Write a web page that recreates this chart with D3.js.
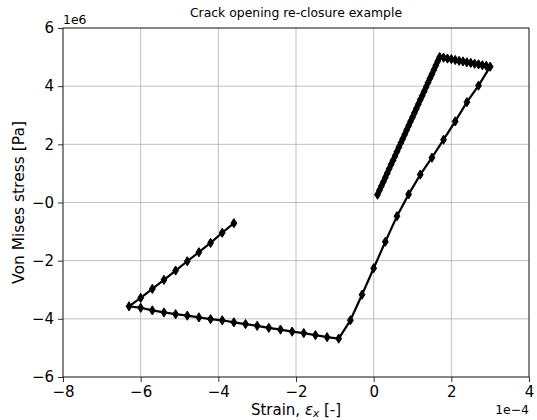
<!DOCTYPE html>
<html>
<head>
<meta charset="utf-8">
<script src="https://cdn.jsdelivr.net/npm/d3@7"></script>
<style>
	body { margin: 0; background: #fff; }
	svg { display: block; font-family: "DejaVu Sans", sans-serif; }
</style>
</head>
<body>
<figure id="crack" style="margin:0"></figure>
<script>
// strain in units of 1e-4, stress in units of 1e6 Pa (axis offsets shown as text)
// loading, first elastic part
var strainLoad = [ 0.10, 0.15, 0.20, 0.25, 0.30, 0.35, 0.40, 0.45, 0.50, 0.55, 0.60, 0.65, 0.70, 0.75, 0.80, 0.85, 0.90,
	0.95, 1.00, 1.05, 1.10, 1.15, 1.20, 1.25, 1.30, 1.35, 1.40, 1.45, 1.50, 1.55, 1.60, 1.65, 1.70 ];
var stressLoad = [ 0.27, 0.42, 0.57, 0.71, 0.86, 1.01, 1.16, 1.31, 1.45, 1.60, 1.75, 1.90, 2.05, 2.19, 2.34, 2.49, 2.64,
	2.79, 2.93, 3.08, 3.23, 3.38, 3.53, 3.67, 3.82, 3.97, 4.12, 4.27, 4.41, 4.56, 4.71, 4.86, 5.00 ];
// crack opening (softening along the top)
var strainOpen = [ 1.80, 1.90, 2.00, 2.10, 2.20, 2.30, 2.40, 2.50, 2.60, 2.70, 2.80, 2.90, 3.00 ];
var stressOpen = [ 4.98, 4.95, 4.93, 4.90, 4.87, 4.85, 4.82, 4.80, 4.77, 4.75, 4.72, 4.70, 4.67 ];
// unloading + re-closure
var strainUnload = [ 2.70, 2.40, 2.10, 1.80, 1.50, 1.20, 0.90, 0.60, 0.30, 0.00, -0.30, -0.60, -0.90 ];
var stressUnload = [ 4.02, 3.45, 2.79, 2.16, 1.54, 0.96, 0.28, -0.47, -1.35, -2.26, -3.17, -4.05, -4.68 ];
// compression
var strainComp = [ -1.20, -1.50, -1.80, -2.10, -2.40, -2.70, -3.00, -3.30, -3.60, -3.90, -4.20, -4.50, -4.80, -5.10,
	-5.40, -5.70, -6.00, -6.30 ];
var stressComp = [ -4.63, -4.56, -4.49, -4.44, -4.37, -4.31, -4.24, -4.18, -4.12, -4.05, -4.01, -3.95, -3.89, -3.84,
	-3.78, -3.71, -3.62, -3.57 ];
// final unloading
var strainBack = [ -6.00, -5.70, -5.40, -5.10, -4.80, -4.50, -4.20, -3.90, -3.60 ];
var stressBack = [ -3.28, -2.97, -2.66, -2.34, -2.02, -1.71, -1.39, -1.04, -0.71 ];

var xTicks = [ -8, -6, -4, -2, 0, 2, 4 ];
var yTicks = [ -6, -4, -2, 0, 2, 4, 6 ];
var yTickLabels = [ "\u22126", "\u22124", "\u22122", "\u22120", "2", "4", "6" ];

var strain = strainLoad.concat( strainOpen, strainUnload, strainComp, strainBack );
var stress = stressLoad.concat( stressOpen, stressUnload, stressComp, stressBack );
var data = strain.map( ( s, i ) => ( { x: s, y: stress[ i ] } ) );

var dimensions = {
	width: 537,
	height: 420,
	margin: { top: 28, right: 8, bottom: 43, left: 63 }
};
dimensions.boundedWidth = dimensions.width - dimensions.margin.left - dimensions.margin.right;
dimensions.boundedHeight = dimensions.height - dimensions.margin.top - dimensions.margin.bottom;

var svg = d3.select( "figure#crack" )
	.append( "svg" )
	.attr( "width", dimensions.width )
	.attr( "height", dimensions.height );

var chart = svg.append( "g" )
	.attr( "transform", `translate(${dimensions.margin.left},${dimensions.margin.top})` );

var xScale = d3.scaleLinear().domain( [ -8, 4 ] ).range( [ 0, dimensions.boundedWidth ] );
var yScale = d3.scaleLinear().domain( [ -6, 6 ] ).range( [ dimensions.boundedHeight, 0 ] );

// grid
chart.append( "g" )
	.selectAll( "line" )
	.data( xTicks )
	.enter()
	.append( "line" )
	.attr( "x1", d => xScale( d ) ).attr( "x2", d => xScale( d ) )
	.attr( "y1", 0 ).attr( "y2", dimensions.boundedHeight )
	.attr( "stroke", "#b0b0b0" ).attr( "stroke-width", 0.8 );
chart.append( "g" )
	.selectAll( "line" )
	.data( yTicks )
	.enter()
	.append( "line" )
	.attr( "y1", d => yScale( d ) ).attr( "y2", d => yScale( d ) )
	.attr( "x1", 0 ).attr( "x2", dimensions.boundedWidth )
	.attr( "stroke", "#b0b0b0" ).attr( "stroke-width", 0.8 );

// axes
var xAxis = chart.append( "g" )
	.attr( "transform", `translate(0, ${dimensions.boundedHeight})` )
	.call( d3.axisBottom( xScale ).tickValues( xTicks ).tickSize( 5 ).tickPadding( 4 )
		.tickFormat( d => d < 0 ? "\u2212" + Math.abs( d ) : d ) );
var yAxis = chart.append( "g" )
	.call( d3.axisLeft( yScale ).tickValues( yTicks ).tickSize( 5 ).tickPadding( 4 )
		.tickFormat( ( d, i ) => yTickLabels[ i ] ) );
[ xAxis, yAxis ].forEach( g => {
	g.select( ".domain" ).remove();
	g.selectAll( "line" ).attr( "stroke", "#000" ).attr( "stroke-width", 0.8 );
	g.selectAll( "text" )
		.style( "font-family", "DejaVu Sans, sans-serif" )
		.style( "font-size", "15px" )
		.style( "fill", "#000" );
} );

// frame
chart.append( "rect" )
	.attr( "width", dimensions.boundedWidth )
	.attr( "height", dimensions.boundedHeight )
	.attr( "fill", "none" )
	.attr( "stroke", "#000" )
	.attr( "stroke-width", 0.8 );

// line + thin diamonds
var line = d3.line().x( d => xScale( d.x ) ).y( d => yScale( d.y ) );
chart.append( "path" )
	.datum( data )
	.attr( "d", line )
	.attr( "fill", "none" )
	.attr( "stroke", "#000" )
	.attr( "stroke-width", 2.2 )
	.attr( "stroke-linejoin", "round" );

chart.selectAll( "path.marker" )
	.data( data )
	.enter()
	.append( "path" )
	.attr( "class", "marker" )
	.attr( "d", "M0,-4.6L2.9,0L0,4.6L-2.9,0Z" )
	.attr( "transform", d => `translate(${xScale( d.x )},${yScale( d.y )})` )
	.attr( "fill", "#000" )
	.attr( "stroke", "#000" )
	.attr( "stroke-width", 1 );

// texts
svg.append( "text" )
	.attr( "x", dimensions.margin.left + dimensions.boundedWidth / 2 )
	.attr( "y", 17 )
	.attr( "text-anchor", "middle" )
	.style( "font-size", "12.4px" )
	.text( "Crack opening re-closure example" );

svg.append( "text" )
	.attr( "x", dimensions.margin.left )
	.attr( "y", 24 )
	.style( "font-size", "12.4px" )
	.text( "1e6" );

svg.append( "text" )
	.attr( "x", dimensions.margin.left + dimensions.boundedWidth )
	.attr( "y", 414 )
	.attr( "text-anchor", "end" )
	.style( "font-size", "12.4px" )
	.text( "1e\u22124" );

var xLabel = svg.append( "text" )
	.attr( "x", dimensions.margin.left + dimensions.boundedWidth / 2 )
	.attr( "y", 415 )
	.attr( "text-anchor", "middle" )
	.style( "font-size", "15px" );
xLabel.append( "tspan" ).text( "Strain, " );
xLabel.append( "tspan" ).style( "font-style", "italic" ).text( "\u03b5" );
xLabel.append( "tspan" ).style( "font-style", "italic" ).style( "font-size", "10.5px" ).attr( "dy", 1.5 ).text( "x" );
xLabel.append( "tspan" ).attr( "dy", -1.5 ).text( " [-]" );

svg.append( "text" )
	.attr( "transform", `translate(24, ${dimensions.margin.top + dimensions.boundedHeight / 2}) rotate(-90)` )
	.attr( "text-anchor", "middle" )
	.style( "font-size", "15.5px" )
	.text( "Von Mises stress [Pa]" );
</script>
</body>
</html>
